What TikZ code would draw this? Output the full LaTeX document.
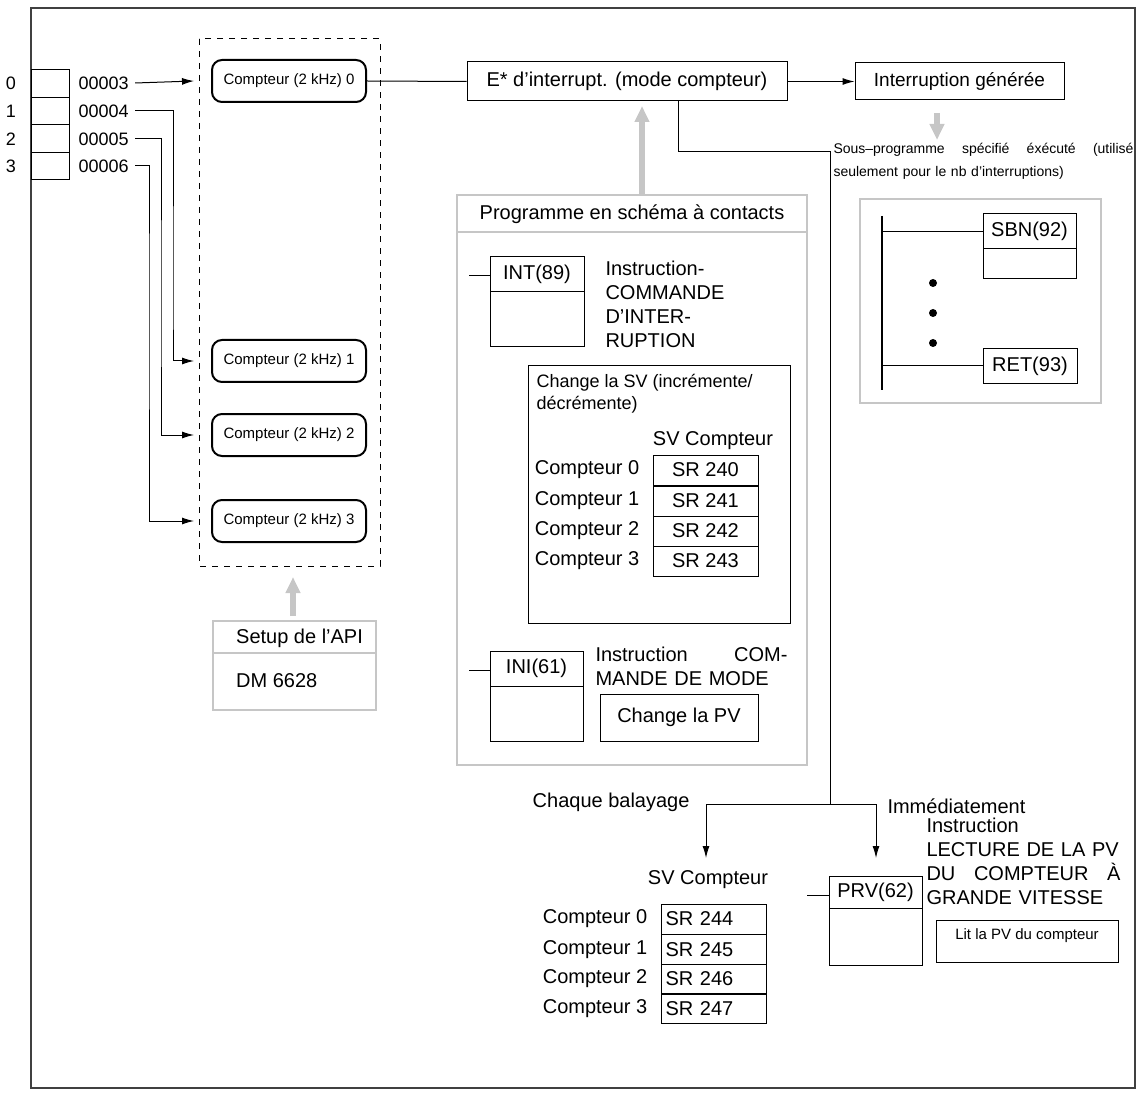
\documentclass[tikz,border=0pt]{standalone}
\usepackage{fontspec}
\setmainfont{Liberation Sans}
\usetikzlibrary{arrows.meta,positioning}
\newcommand{\fs}[1]{\fontsize{#1}{1.2\dimexpr#1pt\relax}\selectfont}
% boite d'instruction: nom, x1, y1, ysep, x2, y2, texte
\newcommand{\instbloc}[7]{
\draw (#2,#3) rectangle (#5,#6);
\draw (#2,#4) -- (#5,#4);
\node[font=\fs{10}] (#1) at ({.5*#2+.5*#5},{.5*#3+.5*#4}) {#7};
}
\tikzset{
  cnt/.style={draw,line width=1pt,rounded corners=5pt,minimum width=77pt,minimum height=21pt,inner sep=1pt,font=\fs{7.5}},
  bx/.style={draw,inner sep=0pt},
  gbox/.style={draw=gray!45,line width=1.2pt},
  garrow/.style={gray!45,line width=2.6pt,-{Triangle[width=7pt,length=8pt]}},
  arr/.style={-{Latex[length=6pt,width=3.5pt]}},
  sr/.style={draw,minimum width=52.5pt,minimum height=15pt,inner sep=0pt,font=\fs{10}},
}
\begin{document}
\begin{tikzpicture}[x=0.5pt,y=-0.5pt,line width=0.5pt]
\useasboundingbox (0,0) rectangle (1145,1101);
\draw[line width=0.9pt,black!75] (31,8) rectangle (1135,1088);
% registre d'entree
\foreach \ya/\yb in {70/97.5,97.5/125,125/152.5,152.5/180} \draw (31,\ya) rectangle (69,\yb);
\foreach \i/\y/\v in {0/83/00003,1/111/00004,2/139/00005,3/166/00006}{
  \node[font=\fs{9}] (n\i) at (11,\y) {\i};
  \node[font=\fs{9},anchor=west,inner sep=1pt] (v\i) at (76,\y) {\v};
}
% compteurs
\draw[dashed] (199,39) rectangle (380,566);
\node[cnt] (cnt0) at (289,81) {Compteur (2 kHz) 0};
\node[cnt] (cnt1) at (289,361) {Compteur (2 kHz) 1};
\node[cnt] (cnt2) at (289,435) {Compteur (2 kHz) 2};
\node[cnt] (cnt3) at (289,521) {Compteur (2 kHz) 3};
\coordinate (in0) at (194,81);
\coordinate (in1) at (194,361);
\coordinate (in2) at (194,435);
\coordinate (in3) at (194,521);
\draw[arr] (v0.east) ++(4,0) -- (in0);
\draw[arr] (v1.east) ++(4,0) -| (173,300) |- (in1);
\draw[arr] (v2.east) ++(4,0) -| (161,300) |- (in2);
\draw[arr] (v3.east) ++(4,0) -| (149,300) |- (in3);
% setup
\draw[garrow] (293,616) -- (293,577);
\draw[gbox] (213,621) rectangle (376,710);
\draw[gbox] (213,653) -- (376,653);
\node[font=\fs{10},anchor=west] (setup) at (229,638) {Setup de l’API};
\node[font=\fs{10},anchor=west] (dm) at (229,681) {DM 6628};
% interruption
\node[bx,minimum width=160pt,minimum height=19.5pt,font=\fs{10}] (einter) at (627,81.5) {E* d’interrupt. (mode compteur)};
\node[bx,minimum width=104.5pt,minimum height=18.5pt,font=\fs{9.5}] (igen) at (959.5,81.5) {Interruption générée};
\draw (cnt0.east) -- (einter.west);
\draw[arr] (einter.east) -- (igen.west);
\draw[garrow] (937,113) -- (937,140);
\draw[garrow] (642,195) -- (642,106);
\coordinate (coin) at (830,152);
\coordinate (fourche) at (830,804);
\draw (einter.south -| 678,0) |- (coin) -- (fourche);
\node[font=\fs{7},anchor=north west,text width=150pt,inner sep=0pt,align=left] (sousprog) at (833,143)
  {Sous--programme\hfill spécifié\hfill éxécuté\hfill (utilisé\\[3pt]seulement pour le nb d'interruptions)};
% sous-programme
\draw[gbox] (860,199) rectangle (1101,403);
\draw[line width=0.8pt] (882,216) -- (882,390);
\instbloc{sbn}{983}{214}{249}{1076}{279}{SBN(92)}
\draw (882,232) -- (983,232);
\foreach \y in {283,313,343} \fill (933,\y) circle (4);
\draw (983,349) rectangle (1077,384);
\node[font=\fs{10}] (ret) at (1030,366.5) {RET(93)};
\draw (882,366) -- (983,366);
% programme a contacts
\draw[gbox] (457,195) rectangle (807,765);
\draw[gbox] (457,232) -- (807,232);
\node[font=\fs{10}] (prog) at (632,214) {Programme en schéma à contacts};
\instbloc{int}{490}{257}{292}{584}{347}{INT(89)}
\draw (469,276) -- (490,276);
\node[font=\fs{10},anchor=north west,inner sep=0pt,align=left] (intxt) at (605,261)
  {Instruction-\\COMMANDE\\D’INTER-\\RUPTION};
\draw (528,366) rectangle (790,623);
\node[font=\fs{9},anchor=north west,inner sep=0pt,align=left] (chsv) at (536,374)
  {Change la SV (incrémente/\\décrémente)};
\node[font=\fs{10}] (svtitre) at (713,441) {SV Compteur};
\foreach \i/\y in {0/470,1/501,2/531,3/561}{
  \node[sr] (sr\i) at (705.5,\y) {SR 24\i};
  \node[font=\fs{10},left=3pt of sr\i] (c\i) {Compteur \i};
}
\instbloc{ini}{490}{651}{686}{583}{741}{INI(61)}
\draw (469,670) -- (490,670);
\node[font=\fs{10},anchor=north west,inner sep=0pt,align=left,text width=96pt] (initxt) at (595,647)
  {Instruction\hfill COM-\\MANDE DE MODE};
\node[bx,minimum width=79pt,minimum height=23.5pt,font=\fs{10}] (chpv) at (679,717.5) {Change la PV};
% sorties
\coordinate (gauche) at (706,804);
\coordinate (droite) at (876,804);
\coordinate (flg) at (706,858);
\coordinate (fld) at (876,858);
\draw (gauche) -- (droite);
\draw[arr] (gauche) -- (flg);
\draw[arr] (droite) -- (fld);
\node[font=\fs{10},anchor=east,inner sep=1pt] (chaque) at (692,802) {Chaque balayage};
\node[font=\fs{10},anchor=west,inner sep=1pt] (immed) at (885,806) {Immédiatement};
\node[font=\fs{10},anchor=north west,inner sep=0pt,align=left,text width=97pt] (prvtxt) at (926,818)
  {Instruction\\LECTURE DE LA PV\\DU\hfill COMPTEUR\hfill À\\GRANDE VITESSE};
\node[font=\fs{10}] (svbas) at (708,880) {SV Compteur};
\foreach \i/\y in {0/919,1/949.5,2/979,3/1008.5}{
  \node[sr,minimum width=52.5pt,align=left,text width=48pt] (sb\i) at (713.5,\y) {SR 24\the\numexpr\i+4\relax};
  \node[font=\fs{10},left=3pt of sb\i] (cb\i) {Compteur \i};
}
\instbloc{prv}{829}{876}{908}{922}{965}{PRV(62)}
\draw (807,895) -- (829,895);
\draw (936,920) rectangle (1118,962);
\node[font=\fs{7.5}] (litpv) at (1027,936) {Lit la PV du compteur};
\end{tikzpicture}
\end{document}
